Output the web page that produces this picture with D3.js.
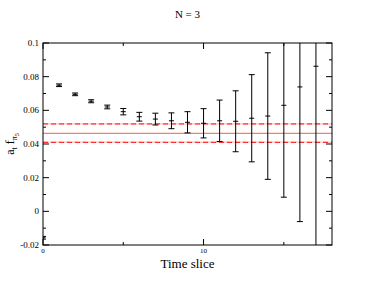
<!DOCTYPE html>
<html>
<head>
<meta charset="utf-8">
<script src="https://cdn.jsdelivr.net/npm/d3@7"></script>
<style>
  body { margin: 0; background: #fff; }
</style>
</head>
<body>
<svg id="chart" width="374" height="289" font-family="'Liberation Serif', 'Times New Roman', serif"></svg>
<script>
// time slices and measured values with errors
var slices = [0, 1, 2, 3, 4, 5, 6, 7, 8, 9, 10, 11, 12, 13, 14, 15, 16, 17];
var values = [-0.0157, 0.0749, 0.0695, 0.0654, 0.0620, 0.0592, 0.0562, 0.0548, 0.0538, 0.0529, 0.0523, 0.0538, 0.0535, 0.0553, 0.0566, 0.0630, 0.0739, 0.0862];
var errors = [0.0005, 0.0005, 0.0005, 0.0006, 0.0008, 0.0016, 0.0023, 0.0032, 0.0044, 0.0060, 0.0084, 0.0120, 0.0178, 0.0256, 0.0373, 0.0543, 0.0797, 0.1200];

// fit result: central value and band
var fitValue = 0.0463;
var fitBand = [0.0410, 0.0519];

var xTicksMajor = [0, 10];
var xTicksMinor = [5, 15];
var yTicksMajor = [-0.02, 0, 0.02, 0.04, 0.06, 0.08, 0.1];
var yTicksMinor = [-0.01, 0.01, 0.03, 0.05, 0.07, 0.09];

var margin = {left: 43, top: 43, right: 42, bottom: 44};
var width = 374 - margin.left - margin.right;
var height = 289 - margin.top - margin.bottom;

var svg = d3.select('#chart');

svg.append('defs').append('clipPath').attr('id', 'clip')
    .append('rect').attr('width', width).attr('height', height);

var g = svg.append('g').attr('transform', 'translate(' + margin.left + ',' + margin.top + ')');

var x = d3.scaleLinear().domain([0, 18]).range([0, width]);
var y = d3.scaleLinear().domain([-0.02, 0.1]).range([height, 0]);

var yFmt = function (d) { return d === 0 ? '0' : String(+d.toFixed(2)); };

// ticks on all four sides, majors longer than minors
function tickLines(vals, len, axis) {
    var sel = g.append('g').attr('stroke', '#000').attr('stroke-width', 1);
    vals.forEach(function (v) {
        if (axis === 'x') {
            sel.append('line').attr('x1', x(v)).attr('x2', x(v)).attr('y1', height).attr('y2', height - len);
            sel.append('line').attr('x1', x(v)).attr('x2', x(v)).attr('y1', 0).attr('y2', len);
        } else {
            sel.append('line').attr('y1', y(v)).attr('y2', y(v)).attr('x1', 0).attr('x2', len);
            sel.append('line').attr('y1', y(v)).attr('y2', y(v)).attr('x1', width).attr('x2', width - len);
        }
    });
}
tickLines(xTicksMajor, 6, 'x');
tickLines(xTicksMinor, 3, 'x');
tickLines(yTicksMajor, 6, 'y');
tickLines(yTicksMinor, 3, 'y');

g.selectAll('.xlab').data(xTicksMajor).enter().append('text')
    .attr('x', function (d) { return x(d); })
    .attr('y', height + 8)
    .attr('text-anchor', 'middle')
    .style('font-size', '7px')
    .text(function (d) { return d; });

g.selectAll('.ylab').data(yTicksMajor).enter().append('text')
    .attr('x', -4)
    .attr('y', function (d) { return y(d) + 3; })
    .attr('text-anchor', 'end')
    .style('font-size', '9px')
    .text(yFmt);

// fit lines
var plot = g.append('g').attr('clip-path', 'url(#clip)');
plot.append('line')
    .attr('x1', 0).attr('x2', width)
    .attr('y1', y(fitValue)).attr('y2', y(fitValue))
    .attr('stroke', '#f08080').attr('stroke-width', 1.3);
fitBand.forEach(function (v) {
    plot.append('line')
        .attr('x1', 0).attr('x2', width)
        .attr('y1', y(v)).attr('y2', y(v))
        .attr('stroke', '#ffc8c8').attr('stroke-width', 1.5);
    plot.append('line')
        .attr('x1', 0).attr('x2', width)
        .attr('y1', y(v)).attr('y2', y(v))
        .attr('stroke', '#ff3030').attr('stroke-width', 1.3)
        .attr('stroke-dasharray', '5,3');
});

// error bars
var pts = slices.map(function (t, i) { return {t: t, v: values[i], e: errors[i]}; });
var bars = plot.selectAll('.bar').data(pts).enter().append('g')
    .attr('stroke', '#000').attr('stroke-width', 1);
bars.append('line')
    .attr('x1', function (d) { return x(d.t); }).attr('x2', function (d) { return x(d.t); })
    .attr('y1', function (d) { return y(d.v - d.e) + 0.5; }).attr('y2', function (d) { return y(d.v + d.e) - 0.5; });
bars.append('line')
    .attr('x1', function (d) { return x(d.t) - 3; }).attr('x2', function (d) { return x(d.t) + 3; })
    .attr('y1', function (d) { return y(d.v - d.e) + 0.5; }).attr('y2', function (d) { return y(d.v - d.e) + 0.5; });
bars.append('line')
    .attr('x1', function (d) { return x(d.t) - 3; }).attr('x2', function (d) { return x(d.t) + 3; })
    .attr('y1', function (d) { return y(d.v + d.e) - 0.5; }).attr('y2', function (d) { return y(d.v + d.e) - 0.5; });
bars.append('line')
    .attr('x1', function (d) { return x(d.t) - 2.5; }).attr('x2', function (d) { return x(d.t) + 2.5; })
    .attr('y1', function (d) { return y(d.v); }).attr('y2', function (d) { return y(d.v); });

// frame
g.append('rect').attr('width', width).attr('height', height)
    .attr('fill', 'none').attr('stroke', '#000').attr('stroke-width', 1);

svg.append('text').attr('x', margin.left + width / 2).attr('y', 18)
    .attr('text-anchor', 'middle').style('font-size', '11px').text('N = 3');

svg.append('text').attr('x', margin.left + width / 2).attr('y', 268)
    .attr('text-anchor', 'middle').style('font-size', '13px').text('Time slice');

var yl = svg.append('text')
    .attr('transform', 'translate(14,' + (margin.top + height / 2) + ') rotate(-90)')
    .attr('text-anchor', 'middle').style('font-size', '12px');
yl.append('tspan').text('a');
yl.append('tspan').attr('dy', 3).style('font-size', '8px').text('t');
yl.append('tspan').attr('dy', -3).text(' f');
yl.append('tspan').attr('dy', 3).style('font-size', '8px').text('π');
yl.append('tspan').attr('dy', 2).style('font-size', '6px').text('5');
</script>
</body>
</html>
